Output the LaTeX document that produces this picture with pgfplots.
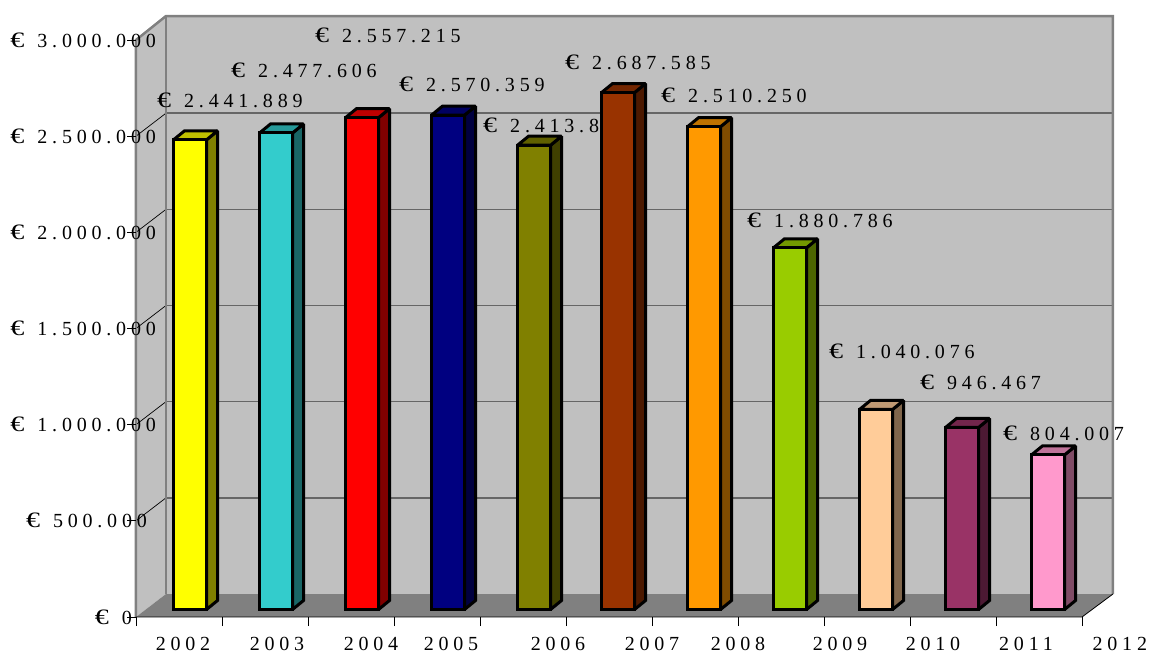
\documentclass[border=0pt]{standalone}
\usepackage{fontspec}
\setmainfont[LetterSpace=24]{Liberation Serif}
\usepackage{graphicx}
\usepackage{pgfplots}
\pgfplotsset{compat=1.18}

\definecolor{wall}{HTML}{C0C0C0}
\definecolor{floorgrey}{HTML}{808080}
\definecolor{gridgrey}{HTML}{666666}
\definecolor{c1}{HTML}{FFFF00}
\definecolor{c2}{HTML}{33CCCC}
\definecolor{c3}{HTML}{FF0000}
\definecolor{c4}{HTML}{000080}
\definecolor{c5}{HTML}{808000}
\definecolor{c6}{HTML}{993300}
\definecolor{c7}{HTML}{FF9900}
\definecolor{c8}{HTML}{99CC00}
\definecolor{c9}{HTML}{FFCC99}
\definecolor{c10}{HTML}{993366}
\definecolor{c11}{HTML}{FF99CC}

\newcommand\E{\scalebox{1.4}[1.1]{€}\kern13pt}
\tikzset{vallabel/.style={anchor=west, inner sep=0pt, text=black, font=\fontsize{20}{22}\selectfont}}

% x centre, value, colour, label x, label y, label text
\newcommand\barthree[6]{%
  \pgfmathsetmacro\xl{#1-0.192}%
  \pgfmathsetmacro\xr{#1+0.192}%
  \pgfmathsetmacro\xlb{#1-0.192+0.128}%
  \pgfmathsetmacro\xrb{#1+0.192+0.128}%
  \edef\vb{\the\numexpr#2+46800\relax}%
  \addplot[barline, fill=#3!50!black] coordinates {(\xr,0) (\xrb,46800) (\xrb,\vb) (\xr,#2)} -- cycle;
  \addplot[barline, fill=#3!75!black] coordinates {(\xl,#2) (\xr,#2) (\xrb,\vb) (\xlb,\vb)} -- cycle;
  \addplot[barline, ybar, bar width=33pt, bar shift=0pt, fill=#3] coordinates {(#1,#2)};
  \addplot[draw=none, mark=none] coordinates {(#4,#5)} node[vallabel] {#6};
}

\begin{document}
\begin{tikzpicture}
\useasboundingbox (-136pt,-36pt) rectangle (1013pt,617pt);
\begin{axis}[
    at={(0,0)}, anchor=south west,
    scale only axis, width=997.6pt, height=577pt,
    xmin=0, xmax=11.6, ymin=0, ymax=3000000,
    clip=false, axis on top,
    axis line style={draw=none},
    scaled y ticks=false,
    tick align=outside, xtick pos=bottom, ytick pos=left,
    major tick length=9pt,
    tick style={black, line width=0.8pt},
    xtick={0,...,11}, xticklabels={},
    ytick={0,500000,...,3000000},
    yticklabels={\E 0,\E 500.000\kern-15pt,\E 1.000.000\kern-24pt,\E 1.500.000\kern-24pt,\E 2.000.000\kern-24pt,\E 2.500.000\kern-24pt,\E 3.000.000\kern-24pt},
    extra x ticks={0.547,1.64,2.733,3.663,4.907,6,7,8.186,9.267,10.349,11.44},
    extra x tick labels={2002,2003,2004,2005,2006,2007,2008,2009,2010,2011,2012},
    extra x tick style={major tick length=0pt},
    tick label style={font=\fontsize{20}{22}\selectfont, inner sep=0pt},
    yticklabel style={anchor=east, xshift=5pt},
    xticklabel style={anchor=north, yshift=-20pt},
    barline/.style={draw=black, line width=3pt, line join=miter, miter limit=1.5, mark=none, yshift=7.5pt},
  ]
  % back wall, side wall, floor
  \addplot[draw=none, fill=wall] coordinates {(0.349,119577) (11.36,119577) (11.36,3124599) (0.349,3124599)} -- cycle;
  \addplot[draw=none, fill=wall] coordinates {(0,0) (0.349,119577) (0.349,3124599) (0,3000000)} -- cycle;
  \addplot[draw=none, fill=floorgrey] coordinates {(0,0) (11,0) (11.36,119577) (0.349,119577)} -- cycle;
  % gridlines on the back wall, and their diagonals on the side wall
  \addplot[gridgrey, line width=1.5pt] coordinates {(0.349,619577) (11.36,619577)};
  \addplot[gridgrey, line width=1.5pt] coordinates {(0.349,1119577) (11.36,1119577)};
  \addplot[gridgrey, line width=1.5pt] coordinates {(0.349,1619577) (11.36,1619577)};
  \addplot[gridgrey, line width=1.5pt] coordinates {(0.349,2119577) (11.36,2119577)};
  \addplot[gridgrey, line width=1.5pt] coordinates {(0.349,2619577) (11.36,2619577)};
  \addplot[black, line width=0.7pt] coordinates {(0,500000) (0.349,619577)};
  \addplot[black, line width=0.7pt] coordinates {(0,1000000) (0.349,1119577)};
  \addplot[black, line width=0.7pt] coordinates {(0,1500000) (0.349,1619577)};
  \addplot[black, line width=0.7pt] coordinates {(0,2000000) (0.349,2119577)};
  \addplot[black, line width=0.7pt] coordinates {(0,2500000) (0.349,2619577)};
  % frame
  \addplot[floorgrey, line width=2.5pt] coordinates {(0,0) (0,3000000) (0.349,3124599) (11.36,3124599) (11.36,119577)};
  \addplot[floorgrey, line width=2.5pt] coordinates {(0.349,119577) (0.349,3124599)};
  \addplot[black, line width=0.8pt] coordinates {(0,0) (11,0) (11.36,119577)};
  % bars
  \barthree{0.628}{2441889}{c1}{0.244}{2687883}{\E 2.441.889}
  \barthree{1.628}{2477606}{c2}{1.105}{2843853}{\E 2.477.606}
  \barthree{2.628}{2557215}{c3}{2.081}{3025818}{\E 2.557.215}
  \barthree{3.628}{2570359}{c4}{3.058}{2771067}{\E 2.570.359}
  \barthree{4.628}{2413850}{c5}{4.035}{2557908}{\E 2.413.850}
  \barthree{5.605}{2687585}{c6}{4.988}{2885445}{\E 2.687.585}
  \barthree{6.605}{2510250}{c7}{6.105}{2713878}{\E 2.510.250}
  \barthree{7.605}{1880786}{c8}{7.105}{2064003}{\E 1.880.786}
  \barthree{8.605}{1040076}{c9}{8.058}{1382934}{\E 1.040.076}
  \barthree{9.605}{946467}{c10}{9.116}{1221765}{\E 946.467}
  \barthree{10.605}{804007}{c11}{10.081}{956616}{\E 804.007}
\end{axis}
\end{tikzpicture}
\end{document}
